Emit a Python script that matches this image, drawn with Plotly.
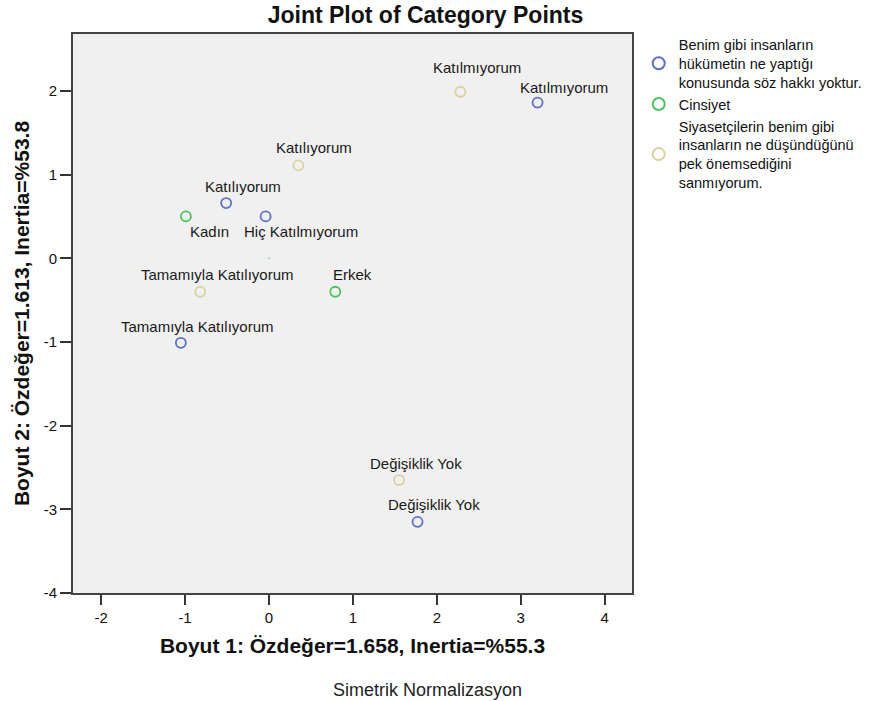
import plotly.graph_objects as go

# ---- data ----
series_names = [
    "Benim gibi insanların<br>hükümetin ne yaptığı<br>konusunda söz hakkı yoktur.",
    "Cinsiyet",
    "Siyasetçilerin benim gibi<br>insanların ne düşündüğünü<br>pek önemsediğini<br>sanmıyorum.",
]
s1_labels = ["Katılmıyorum", "Katılıyorum", "Hiç Katılmıyorum", "Tamamıyla Katılıyorum", "Değişiklik Yok"]
s1_x = [3.20, -0.51, -0.04, -1.05, 1.77]
s1_y = [1.86, 0.66, 0.50, -1.01, -3.15]

s2_labels = ["Kadın", "Erkek"]
s2_x = [-0.99, 0.79]
s2_y = [0.50, -0.40]

s3_labels = ["Katılmıyorum", "Katılıyorum", "Tamamıyla Katılıyorum", "Değişiklik Yok"]
s3_x = [2.28, 0.35, -0.82, 1.55]
s3_y = [1.99, 1.11, -0.40, -2.65]

x_ticks = [-2, -1, 0, 1, 2, 3, 4]
x_ticktext = ["-2", "-1", "0", "1", "2", "3", "4"]
y_ticks = [-4, -3, -2, -1, 0, 1, 2]
y_ticktext = ["-4", "-3", "-2", "-1", "0", "1", "2"]

# ---- styles ----
colors = ["#5b71c8", "#4cc25c", "#d9d2a0"]
# label offsets in pixels (xshift, yshift)
s1_off = [(26, 15), (17, 17), (35, -15), (17, 16), (16, 17)]
s2_off = [(24, -15), (17, 17)]
s3_off = [(17, 24), (16, 18), (17, 17), (17, 17)]

FONT = "Liberation Sans, Arial, sans-serif"

fig = go.Figure()
series = [(s1_x, s1_y, s1_labels, s1_off), (s2_x, s2_y, s2_labels, s2_off), (s3_x, s3_y, s3_labels, s3_off)]
annotations = []
for i, (xs, ys, labs, offs) in enumerate(series):
    fig.add_trace(go.Scatter(
        x=xs, y=ys, mode="markers", name=series_names[i],
        marker=dict(symbol="circle-open", size=10, color=colors[i], line=dict(width=1.8, color=colors[i])),
        hoverinfo="text", text=labs,
    ))
    for x, y, lab, (dx, dy) in zip(xs, ys, labs, offs):
        annotations.append(dict(x=x, y=y, xref="x", yref="y", text=lab, showarrow=False,
                                xshift=dx, yshift=dy, font=dict(family=FONT, size=15, color="#1a1a1a")))

# small origin marker
fig.add_trace(go.Scatter(x=[0], y=[0], mode="markers", showlegend=False, hoverinfo="skip",
                         marker=dict(size=2, color="#9fd3a6")))

annotations.append(dict(text="Simetrik Normalizasyon", xref="paper", yref="paper", x=(427 - 73.3) / 558.4,
                        y=(592.7 - 690) / 558.7, xanchor="center", yanchor="middle", showarrow=False,
                        font=dict(family=FONT, size=18, color="#222222")))

fig.update_layout(
    width=874, height=701,
    margin=dict(l=73.3, r=242.3, t=34, b=108.3, pad=0, autoexpand=False),
    paper_bgcolor="white", plot_bgcolor="#f0f0f0",
    title=dict(text="<b>Joint Plot of Category Points</b>", x=425.5 / 874, xanchor="center", y=1 - 15 / 701,
               yanchor="middle", font=dict(family=FONT, size=23, color="#111111")),
    font=dict(family=FONT, size=12, color="#111111"),
    showlegend=True,
    legend=dict(x=1.012, y=1.0098, xanchor="left", yanchor="top", bgcolor="rgba(0,0,0,0)",
                font=dict(family=FONT, size=14.5, color="#111111"), itemsizing="constant",
                tracegroupgap=1, itemwidth=30),
    annotations=annotations,
)
fig.update_xaxes(range=[-2.335, 4.325], tickvals=x_ticks, ticktext=x_ticktext, ticks="outside", ticklen=10,
                 tickwidth=2, tickcolor="#333333", showgrid=False, zeroline=False, showline=True,
                 linecolor="#444444", linewidth=2, mirror=True, tickfont=dict(size=15, family=FONT),
                 title=dict(text="<b>Boyut 1: Özdeğer=1.658, Inertia=%55.3</b>", font=dict(size=21, family=FONT),
                            standoff=13))
fig.update_yaxes(range=[-4, 2.68], tickvals=y_ticks, ticktext=y_ticktext, ticks="outside", ticklen=11,
                 tickwidth=2, tickcolor="#333333", showgrid=False, zeroline=False, showline=True,
                 linecolor="#444444", linewidth=2, mirror=True, tickfont=dict(size=15, family=FONT),
                 title=dict(text="<b>Boyut 2: Özdeğer=1.613, Inertia=%53.8</b>", font=dict(size=21, family=FONT),
                            standoff=8))

fig.write_html("out.html", config={"displayModeBar": False},
               post_script="document.body.style.margin='0';document.body.style.overflow='hidden';")
